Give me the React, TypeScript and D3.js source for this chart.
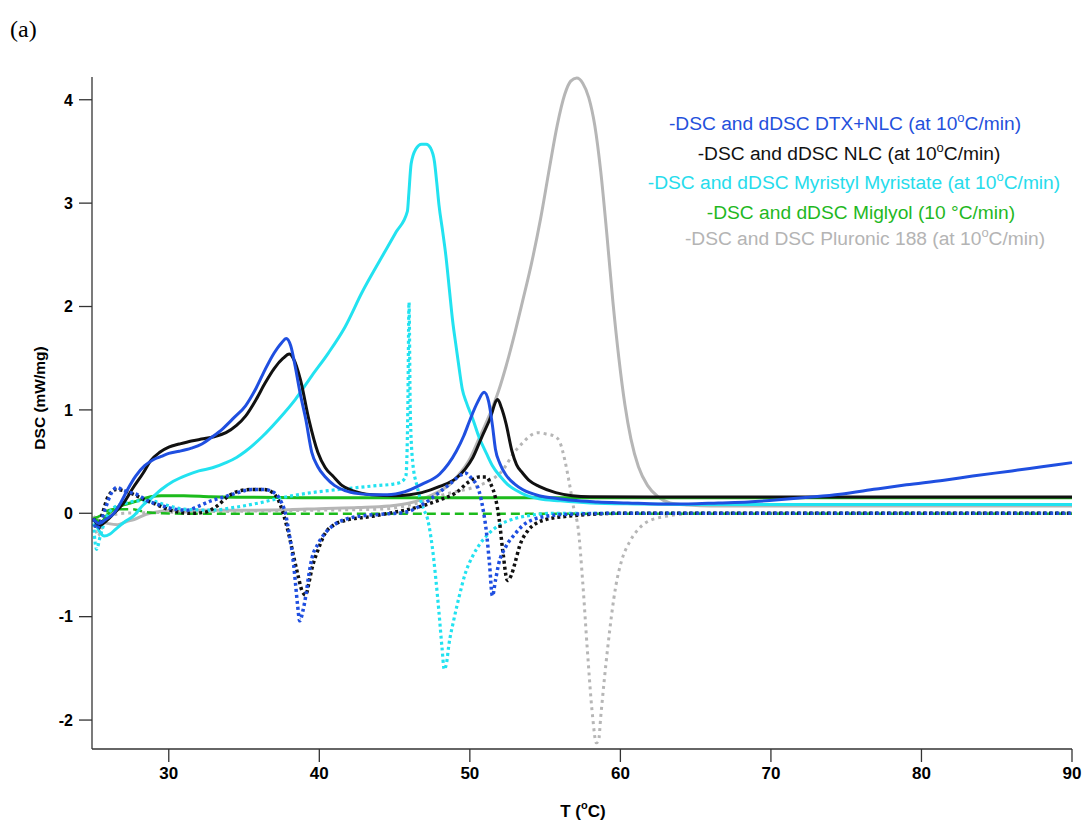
import React from 'react';
import * as d3 from 'd3';

// DSC thermograms (heat flow, mW/mg) against temperature (°C)
type Pt = [number, number];

const xTicks = [30, 40, 50, 60, 70, 80, 90];
const yTicks = [-2, -1, 0, 1, 2, 3, 4];

const dtxNlcDSC: Pt[] = [
  [25.0, -0.06], [25.4, -0.1], [25.8, -0.06], [26.3, -0.01], [26.8, 0.1], [27.3, 0.24], [27.8, 0.36],
  [28.4, 0.46], [29.0, 0.52], [29.5, 0.55], [30.0, 0.58], [30.7, 0.6], [31.5, 0.63], [32.2, 0.67],
  [32.9, 0.74], [33.6, 0.82], [34.3, 0.92], [35.1, 1.04], [35.8, 1.21], [36.4, 1.39], [37.0, 1.55],
  [37.5, 1.65], [37.8, 1.69], [38.1, 1.62], [38.4, 1.42], [38.7, 1.18], [39.1, 0.91], [39.5, 0.59],
  [39.9, 0.45], [40.4, 0.35], [41.0, 0.27], [41.7, 0.22], [42.6, 0.19], [43.5, 0.18], [44.5, 0.18],
  [45.7, 0.21], [46.8, 0.28], [48.0, 0.38], [49.1, 0.6], [49.6, 0.75], [50.0, 0.9], [50.5, 1.07],
  [50.95, 1.17], [51.25, 1.08], [51.5, 0.85], [51.7, 0.62], [52.0, 0.48], [52.4, 0.37], [53.0, 0.28],
  [53.5, 0.23], [54.6, 0.17], [55.7, 0.145], [56.8, 0.125], [58.5, 0.11], [60.5, 0.1], [62.5, 0.09],
  [64.5, 0.09], [66.5, 0.1], [68.5, 0.11], [70.5, 0.13], [72.5, 0.155], [74.6, 0.185], [77.0, 0.235],
  [79.0, 0.275], [81.5, 0.32], [83.4, 0.36], [86.0, 0.41], [88.0, 0.45], [90.0, 0.49],
];

const dtxNlcDDSC: Pt[] = [
  [25.0, -0.05], [25.2, -0.15], [25.5, -0.08], [25.8, 0.05], [26.2, 0.2], [26.55, 0.25], [27.0, 0.22],
  [27.9, 0.18], [28.6, 0.12], [29.4, 0.08], [30.4, 0.04], [31.2, 0.03], [32.0, 0.07], [32.8, 0.12],
  [33.5, 0.15], [34.6, 0.2], [35.5, 0.23], [36.3, 0.23], [37.1, 0.19], [37.5, 0.1], [37.75, 0.0],
  [38.0, -0.2], [38.2, -0.38], [38.4, -0.65], [38.55, -0.88], [38.7, -1.04], [38.9, -0.95], [39.1, -0.8],
  [39.3, -0.6], [39.5, -0.44], [39.9, -0.3], [40.4, -0.19], [41.0, -0.11], [41.7, -0.06], [42.6, -0.03],
  [44.0, -0.01], [45.7, 0.01], [46.8, 0.08], [47.95, 0.2], [48.8, 0.3], [49.4, 0.37], [49.7, 0.39],
  [50.1, 0.34], [50.6, 0.22], [50.9, 0.02], [51.1, -0.18], [51.3, -0.48], [51.5, -0.8], [51.7, -0.65],
  [51.9, -0.5], [52.4, -0.32], [53.0, -0.2], [53.5, -0.12], [54.2, -0.06], [55.0, -0.03], [56.5, -0.01],
  [60.0, 0.0], [90.0, 0.0],
];

const nlcDSC: Pt[] = [
  [25.0, -0.05], [25.4, -0.12], [25.8, -0.08], [26.3, -0.01], [27.0, 0.1], [27.6, 0.24], [28.3, 0.39],
  [28.8, 0.51], [29.4, 0.59], [30.0, 0.64], [30.7, 0.67], [31.5, 0.7], [32.3, 0.72], [33.0, 0.74],
  [33.8, 0.78], [34.5, 0.85], [35.1, 0.94], [35.8, 1.1], [36.4, 1.26], [37.0, 1.4], [37.6, 1.5],
  [38.0, 1.54], [38.3, 1.49], [38.75, 1.29], [39.3, 0.91], [39.9, 0.59], [40.4, 0.44], [40.9, 0.36],
  [41.5, 0.27], [42.2, 0.22], [43.5, 0.18], [45.0, 0.17], [46.0, 0.18], [46.8, 0.2], [48.0, 0.26],
  [49.1, 0.34], [49.7, 0.43], [50.2, 0.54], [50.8, 0.74], [51.3, 0.9], [51.85, 1.1], [52.1, 1.02],
  [52.4, 0.87], [52.8, 0.6], [53.1, 0.47], [53.5, 0.39], [54.0, 0.31], [54.6, 0.26], [55.7, 0.2],
  [56.8, 0.17], [58.0, 0.16], [62.0, 0.158], [70.0, 0.158], [80.0, 0.158], [90.0, 0.158],
];

const nlcDDSC: Pt[] = [
  [25.0, -0.05], [25.3, -0.15], [25.6, 0.0], [26.0, 0.17], [26.5, 0.23], [27.2, 0.21], [27.7, 0.18],
  [28.4, 0.13], [29.1, 0.09], [29.9, 0.04], [30.7, 0.01], [31.5, 0.0], [32.4, 0.01], [33.2, 0.07],
  [34.0, 0.17], [34.8, 0.22], [35.5, 0.23], [36.3, 0.23], [36.9, 0.2], [37.3, 0.12], [37.6, 0.0],
  [38.0, -0.22], [38.3, -0.42], [38.6, -0.61], [38.85, -0.75], [39.1, -0.79], [39.3, -0.68],
  [39.5, -0.54], [39.9, -0.36], [40.4, -0.19], [41.0, -0.11], [41.7, -0.07], [43.5, -0.03],
  [44.6, 0.0], [45.7, 0.03], [46.8, 0.07], [48.0, 0.13], [49.1, 0.2], [49.9, 0.3], [50.6, 0.35],
  [51.1, 0.35], [51.4, 0.28], [51.7, 0.15], [51.95, -0.06], [52.2, -0.38], [52.5, -0.65], [52.75, -0.6],
  [53.0, -0.48], [53.3, -0.32], [53.9, -0.16], [54.5, -0.09], [55.05, -0.06], [56.4, -0.03],
  [58.0, -0.01], [60.0, 0.0], [90.0, 0.0],
];

const myristylDSC: Pt[] = [
  [25.0, -0.05], [25.3, -0.15], [25.7, -0.22], [26.1, -0.2], [26.5, -0.15], [27.1, -0.08], [27.7, -0.02],
  [28.3, 0.08], [28.8, 0.14], [29.5, 0.23], [30.3, 0.31], [31.2, 0.37], [32.0, 0.41], [32.9, 0.44],
  [33.8, 0.49], [34.5, 0.54], [35.1, 0.6], [36.2, 0.74], [37.3, 0.91], [38.4, 1.1], [39.5, 1.33],
  [40.6, 1.55], [41.7, 1.8], [42.85, 2.14], [44.0, 2.44], [45.1, 2.72], [45.85, 2.92], [45.95, 3.1],
  [46.1, 3.38], [46.4, 3.52], [46.8, 3.57], [47.1, 3.57], [47.4, 3.53], [47.65, 3.4], [47.8, 3.2],
  [47.95, 2.98], [48.2, 2.72], [48.4, 2.5], [48.65, 2.15], [48.85, 1.87], [49.1, 1.6], [49.3, 1.39],
  [49.5, 1.2], [49.75, 1.08], [50.2, 0.91], [50.6, 0.74], [51.1, 0.58], [51.5, 0.46], [52.0, 0.36],
  [52.5, 0.28], [53.1, 0.22], [53.8, 0.17], [54.6, 0.14], [56.0, 0.12], [58.0, 0.1], [61.0, 0.09],
  [65.0, 0.085], [75.0, 0.085], [90.0, 0.085],
];

const myristylDDSC: Pt[] = [
  [25.0, -0.1], [25.2, -0.35], [25.45, -0.22], [25.8, -0.06], [26.3, 0.05], [27.2, 0.1], [28.0, 0.12],
  [28.8, 0.12], [29.8, 0.08], [31.0, 0.04], [32.8, 0.03], [34.5, 0.06], [36.0, 0.1], [37.5, 0.15],
  [39.5, 0.2], [41.3, 0.23], [42.6, 0.25], [44.0, 0.27], [44.8, 0.28], [45.4, 0.3], [45.75, 0.36],
  [45.88, 1.0], [45.96, 2.04], [46.04, 1.0], [46.2, 0.5], [46.5, 0.26], [46.9, 0.05], [47.2, -0.06],
  [47.5, -0.32], [47.75, -0.65], [47.95, -0.96], [48.15, -1.3], [48.3, -1.51], [48.45, -1.45],
  [48.6, -1.28], [48.95, -1.02], [49.3, -0.8], [49.7, -0.58], [50.2, -0.41], [50.7, -0.29],
  [51.3, -0.19], [52.0, -0.11], [52.8, -0.06], [54.0, -0.02], [55.5, 0.0], [60.0, 0.0], [90.0, 0.0],
];

const miglyolDSC: Pt[] = [
  [25.0, -0.05], [25.5, -0.08], [26.0, 0.0], [26.6, 0.06], [27.2, 0.09], [27.7, 0.11], [28.3, 0.14],
  [28.8, 0.16], [29.5, 0.17], [31.0, 0.17], [32.8, 0.16], [35.0, 0.155], [40.0, 0.15], [50.0, 0.15],
  [60.0, 0.15], [90.0, 0.15],
];

const miglyolDDSC: Pt[] = [
  [25.0, -0.05], [25.5, -0.02], [26.0, 0.03], [26.5, 0.04], [27.5, 0.04], [28.5, 0.01], [29.5, 0.0],
  [32.0, -0.005], [90.0, -0.005],
];

const pluronicDSC: Pt[] = [
  [25.0, -0.03], [25.5, -0.08], [26.0, -0.1], [26.6, -0.11], [27.2, -0.08], [27.7, -0.06], [28.5, -0.01],
  [29.5, 0.02], [30.5, 0.03], [32.0, 0.03], [35.0, 0.03], [38.0, 0.035], [40.0, 0.045], [42.6, 0.055],
  [44.6, 0.07], [46.0, 0.1], [46.8, 0.135], [47.8, 0.2], [48.6, 0.27], [49.3, 0.38], [49.9, 0.5],
  [50.6, 0.72], [51.3, 0.95], [51.9, 1.18], [52.4, 1.42], [53.0, 1.75], [53.5, 2.05], [54.1, 2.42],
  [54.7, 2.85], [55.3, 3.35], [55.8, 3.75], [56.3, 4.05], [56.7, 4.18], [57.1, 4.21], [57.5, 4.16],
  [57.9, 4.02], [58.3, 3.75], [58.7, 3.3], [59.1, 2.7], [59.5, 2.05], [59.9, 1.5], [60.3, 1.05],
  [60.7, 0.72], [61.2, 0.45], [61.8, 0.27], [62.5, 0.16], [63.3, 0.1], [64.5, 0.08], [66.0, 0.07],
  [70.0, 0.07], [80.0, 0.07], [90.0, 0.07],
];

const pluronicDDSC: Pt[] = [
  [25.0, -0.03], [25.3, -0.22], [25.6, -0.12], [26.0, -0.03], [27.0, 0.0], [30.0, 0.01], [35.0, 0.02],
  [40.0, 0.03], [44.0, 0.04], [45.7, 0.07], [47.0, 0.12], [48.0, 0.17], [49.1, 0.21], [50.0, 0.24],
  [50.8, 0.28], [51.5, 0.33], [52.2, 0.42], [52.9, 0.58], [53.5, 0.68], [54.0, 0.75], [54.5, 0.78],
  [55.0, 0.77], [55.7, 0.74], [56.0, 0.68], [56.3, 0.52], [56.6, 0.3], [56.9, 0.05], [57.2, -0.15],
  [57.5, -0.67], [57.8, -1.31], [58.15, -1.96], [58.4, -2.22], [58.55, -2.2], [58.7, -1.96],
  [59.15, -1.31], [59.7, -0.7], [60.1, -0.45], [60.6, -0.28], [61.1, -0.17], [61.7, -0.09],
  [63.0, -0.03], [65.0, 0.0], [90.0, 0.0],
];

const BLUE = '#1f4fe0';
const BLACK = '#111111';
const CYAN = '#22e2f0';
const GREEN = '#1cbb1c';
const GRAY = '#b6b6b6';

// drawing order: back to front
const traces = [
  { data: pluronicDSC, color: GRAY, dash: null, width: 3 },
  { data: pluronicDDSC, color: GRAY, dash: '3 4', width: 3 },
  { data: miglyolDDSC, color: GREEN, dash: '9 5', width: 2.5 },
  { data: miglyolDSC, color: GREEN, dash: null, width: 3 },
  { data: myristylDSC, color: CYAN, dash: null, width: 3 },
  { data: myristylDDSC, color: CYAN, dash: '3 3', width: 3.2 },
  { data: nlcDSC, color: BLACK, dash: null, width: 3 },
  { data: nlcDDSC, color: BLACK, dash: '3 3', width: 3.5 },
  { data: dtxNlcDSC, color: BLUE, dash: null, width: 3 },
  { data: dtxNlcDDSC, color: BLUE, dash: '3 3', width: 3.5 },
];

const legendItems = [
  { pre: '-DSC and dDSC DTX+NLC (at 10', sup: 'o', post: 'C/min)', color: '#2450dc' },
  { pre: '-DSC and dDSC NLC (at 10', sup: 'o', post: 'C/min)', color: '#111111' },
  { pre: '-DSC and dDSC Myristyl Myristate (at 10', sup: 'o', post: 'C/min)', color: '#26dcec' },
  { pre: '-DSC and dDSC Miglyol (10 \u00B0C/min)', sup: '', post: '', color: '#1fb81f' },
  { pre: '-DSC and DSC Pluronic 188 (at 10', sup: 'o', post: 'C/min)', color: '#b4b4b4' },
];
const legendCenters = [845, 849, 854, 861, 865];
const legendBaselines = [130, 160, 189, 219, 245];

const FONT = '"Liberation Sans", Arial, Helvetica, sans-serif';

export default function App() {
  const left = 92, right = 1072, top = 77, bottom = 749;
  const x = d3.scaleLinear().domain([24.9, 90]).range([left, right]);
  const y = d3.scaleLinear().domain([-2.28, 4.22]).range([bottom, top]);
  const line = d3
    .line<Pt>()
    .x((d) => x(d[0]))
    .y((d) => y(d[1]))
    .curve(d3.curveMonotoneX);

  return (
    <svg
      width={1087}
      height={823}
      style={{ position: 'absolute', left: 0, top: 0, background: '#fff' }}
      fontFamily={FONT}
    >
      <defs>
        <clipPath id="plotArea">
          <rect x={left} y={top - 5} width={right - left + 3} height={bottom - top + 5} />
        </clipPath>
      </defs>

      <text x={10} y={37} fontFamily='"Liberation Serif", "Times New Roman", serif' fontSize={24}>
        (a)
      </text>

      <g clipPath="url(#plotArea)" fill="none" strokeLinejoin="round">
        {traces.map((t, i) => (
          <path
            key={i}
            d={line(t.data) || ''}
            stroke={t.color}
            strokeWidth={t.width}
            strokeDasharray={t.dash || undefined}
            strokeLinecap="butt"
          />
        ))}
      </g>

      {/* y axis */}
      <line x1={left} x2={left} y1={top} y2={bottom} stroke="#333" strokeWidth={1.3} />
      {yTicks.map((v) => (
        <g key={v}>
          <line x1={left - 13} x2={left} y1={y(v)} y2={y(v)} stroke="#333" strokeWidth={1.3} />
          <text
            x={left - 19}
            y={y(v)}
            dy="0.36em"
            textAnchor="end"
            fontSize={16}
            fontWeight="bold"
          >
            {v}
          </text>
        </g>
      ))}
      <text
        transform={`translate(45, 398) rotate(-90)`}
        textAnchor="middle"
        fontSize={15.5}
        fontWeight="bold"
      >
        DSC (mW/mg)
      </text>

      {/* x axis */}
      <line x1={left} x2={right} y1={bottom} y2={bottom} stroke="#333" strokeWidth={1.3} />
      {xTicks.map((v) => (
        <g key={v}>
          <line x1={x(v)} x2={x(v)} y1={bottom} y2={bottom + 13} stroke="#333" strokeWidth={1.3} />
          <text x={x(v)} y={779} textAnchor="middle" fontSize={17} fontWeight="bold">
            {v}
          </text>
        </g>
      ))}
      <text x={583} y={817} textAnchor="middle" fontSize={17} fontWeight="bold">
        T (<tspan fontSize={11} dy={-8}>o</tspan>
        <tspan dy={8}>C)</tspan>
      </text>

      {/* legend */}
      {legendItems.map((it, i) => (
        <text
          key={i}
          x={legendCenters[i]}
          y={legendBaselines[i]}
          textAnchor="middle"
          fontSize={19.2}
          fill={it.color}
        >
          {it.pre}
          {it.sup ? (
            <>
              <tspan fontSize={13} dy={-8}>
                {it.sup}
              </tspan>
              <tspan dy={8}>{it.post}</tspan>
            </>
          ) : null}
        </text>
      ))}
    </svg>
  );
}
